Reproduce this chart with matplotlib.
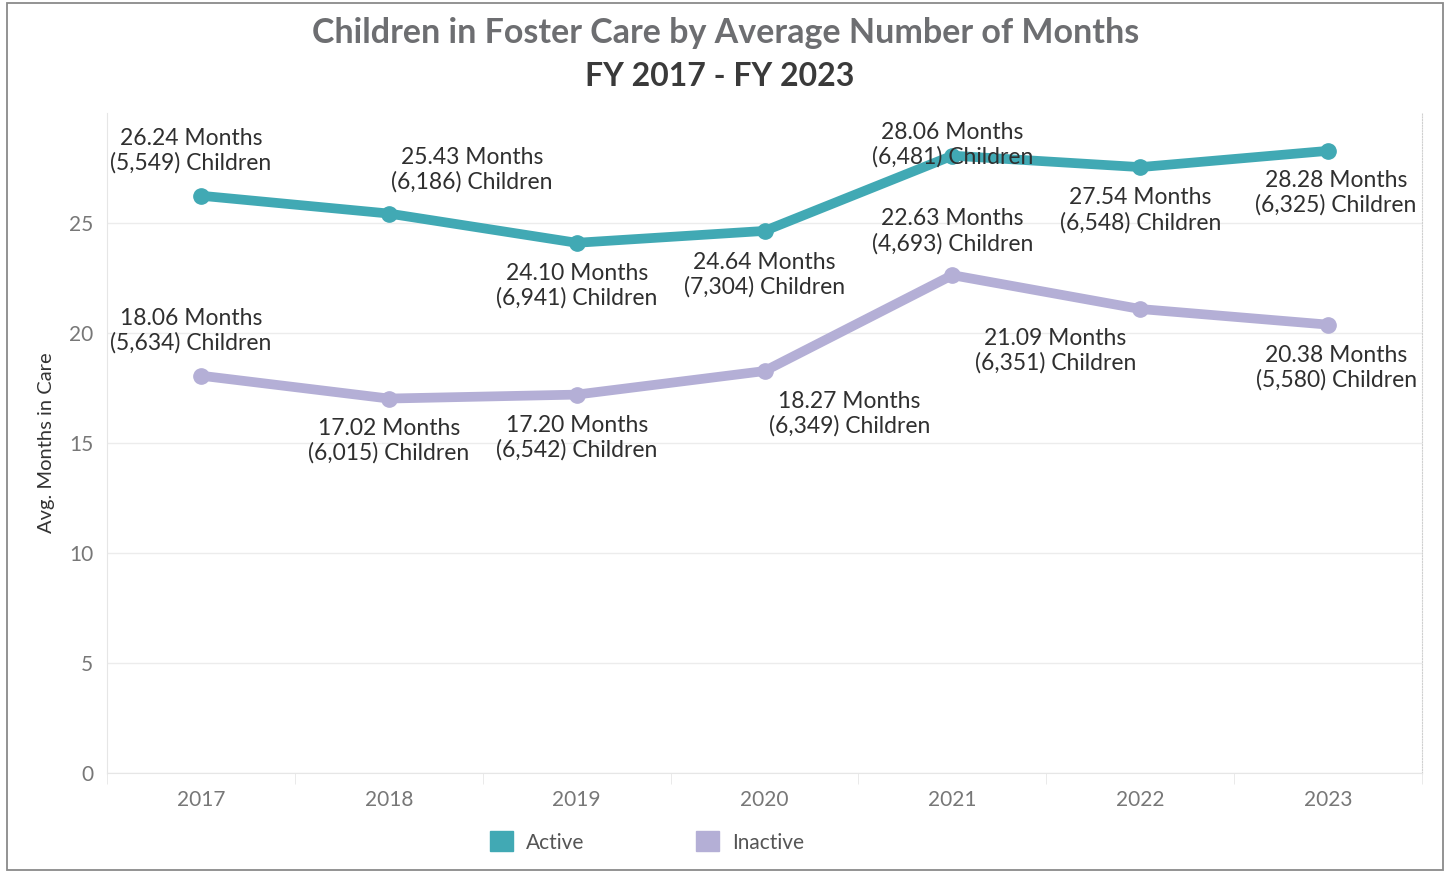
import numpy as np
import matplotlib
matplotlib.use("Agg")
import matplotlib.pyplot as plt
from matplotlib.patches import Patch, Rectangle

# Fiscal years and series
years = [2017, 2018, 2019, 2020, 2021, 2022, 2023]
active_months = [26.24, 25.43, 24.10, 24.64, 28.06, 27.54, 28.28]
active_children = [5549, 6186, 6941, 7304, 6481, 6548, 6325]
inactive_months = [18.06, 17.02, 17.20, 18.27, 22.63, 21.09, 20.38]
inactive_children = [5634, 6015, 6542, 6349, 4693, 6351, 5580]

# label offsets (pixels) from each point to the centre of its label
active_offsets = [(-10, 45), (83, 44), (0, -43), (0, -44), (0, 11), (0, -43), (8, -42)]
inactive_offsets = [(-10, 45), (0, -42), (0, -43), (85, -43), (0, 44), (-85, -42), (8, -43)]

teal = "#41a9b4"
lavender = "#b4afd6"

plt.rcParams["font.family"] = ["Lato", "DejaVu Sans"]

fig = plt.figure(figsize=(14.5, 8.71), dpi=100)
ax = fig.add_axes([107 / 1450, 1 - 773 / 871, (1422 - 107) / 1450, (773 - 113) / 871])

# outer frame
fig.patches.append(Rectangle((7 / 1450, 1 / 871), 1436 / 1450, 867 / 871,
                             transform=fig.transFigure, fill=False,
                             edgecolor="#8a8a8a", lw=1.3))

ax.plot(years, active_months, color=teal, lw=7, marker="o", ms=11,
        solid_capstyle="round", zorder=3)
ax.plot(years, inactive_months, color=lavender, lw=7, marker="o", ms=11,
        solid_capstyle="round", zorder=3)

def label(x, m, n, off):
    ax.annotate(f"{m:.2f} Months\n({n:,}) Children", (x, m),
                xytext=off, textcoords="offset pixels",
                ha="center", va="center", fontsize=16.5, color="#2f2f2f",
                linespacing=1.2, zorder=4)

for x, m, n, off in zip(years, active_months, active_children, active_offsets):
    label(x, m, n, off)
for x, m, n, off in zip(years, inactive_months, inactive_children, inactive_offsets):
    label(x, m, n, off)

ax.set_xlim(2016.5, 2023.5)
ax.set_ylim(0, 30)
ax.set_yticks([0, 5, 10, 15, 20, 25])
ax.set_xticks(years)
ax.set_xticks(np.arange(2016.5, 2024, 1), minor=True)
ax.tick_params(axis="x", which="major", length=0, pad=12, labelsize=15, labelcolor="#777777")
ax.tick_params(axis="x", which="minor", length=8, color="#e6e6e6")
ax.tick_params(axis="y", length=0, pad=10, labelsize=15, labelcolor="#777777")
ax.grid(axis="y", color="#ececec", lw=1)
ax.set_axisbelow(True)
for s in ["left", "bottom"]:
    ax.spines[s].set_color("#e6e6e6")
ax.spines["top"].set_visible(False)
ax.spines["right"].set_color("#d0d0d0")
ax.spines["right"].set_linestyle((0, (1, 1.5)))
ax.set_ylabel("Avg. Months in Care", fontsize=14.5, color="#333333", labelpad=10)

fig.text(726 / 1450, 1 - 33 / 871, "Children in Foster Care by Average Number of Months",
         ha="center", va="center", fontsize=24.5, fontweight="bold", color="#6d6e71")
fig.text(720 / 1450, 1 - 76 / 871, "FY 2017 - FY 2023",
         ha="center", va="center", fontsize=23, fontweight="bold", color="#3a3a3a")

handles = [Patch(color=teal), Patch(color=lavender)]
fig.legend(handles, ["Active", "Inactive"], ncol=2, loc="center",
           bbox_to_anchor=(647 / 1450, 1 - 842 / 871), frameon=False,
           fontsize=15, labelcolor="#555555", handlelength=1.1, handleheight=1.1,
           columnspacing=5.4, handletextpad=0.6)

fig.savefig("out.png", dpi=100)
